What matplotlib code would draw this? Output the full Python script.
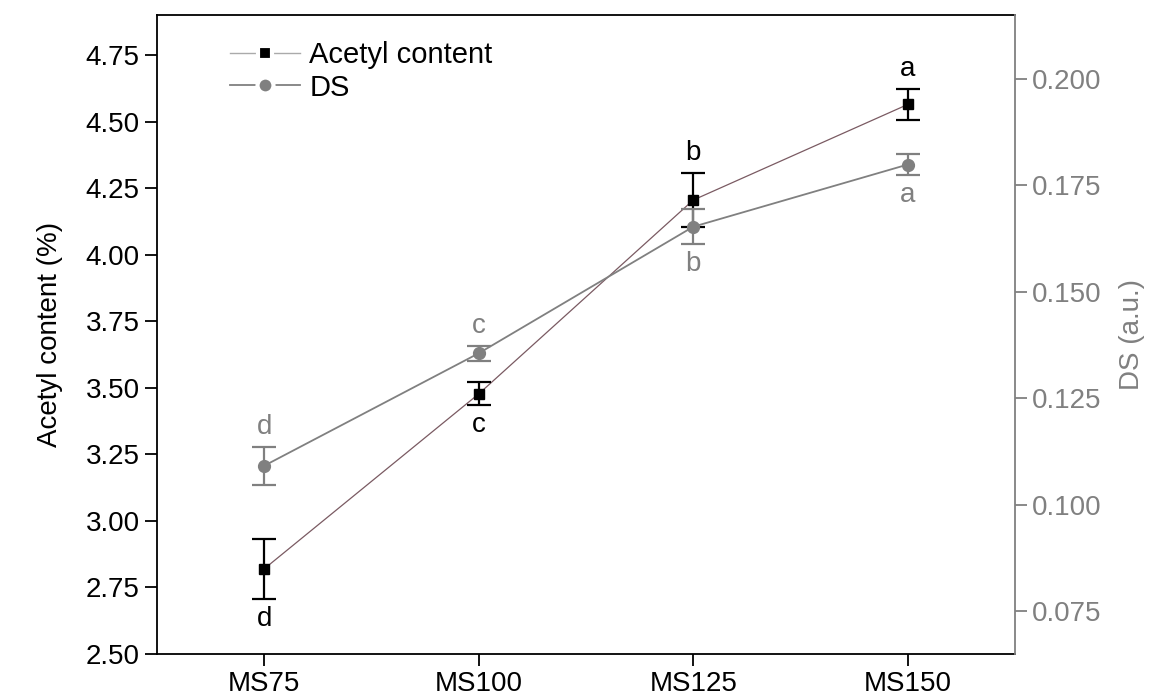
import matplotlib
matplotlib.use('Agg')
import matplotlib.pyplot as plt
from matplotlib.lines import Line2D
import numpy as np

# Data
samples = ['MS75', 'MS100', 'MS125', 'MS150']
acetyl = [2.82, 3.477, 4.205, 4.564]
acetyl_err = [0.113, 0.043, 0.10, 0.059]
acetyl_letters = ['d', 'c', 'b', 'a']
ds = [0.1092, 0.1356, 0.1653, 0.1799]
ds_err = [0.0045, 0.0018, 0.0041, 0.0025]
ds_letters = ['d', 'c', 'b', 'a']
# letter above (+1) or below (-1) the error bar
acetyl_side = [-1, -1, 1, 1]
ds_side = [1, 1, -1, -1]

plt.rcParams['font.family'] = ['Liberation Sans', 'DejaVu Sans']
plt.rcParams['font.size'] = 20

grey = '#808080'
x = np.arange(len(samples))

fig = plt.figure(figsize=(11.62, 6.98), dpi=100)
ax = fig.add_axes([0.1351, 0.063, 0.7384, 0.9155])
ax2 = ax.twinx()

# Acetyl content (left axis)
ax.plot(x, acetyl, color='#7a5a62', linewidth=0.9, zorder=2)
ax.errorbar(x, acetyl, yerr=acetyl_err, fmt='s', color='black', markersize=7.5,
            capsize=8.5, elinewidth=1.6, capthick=1.6, zorder=3)

# DS (right axis)
ax2.plot(x, ds, color=grey, linewidth=1.3, zorder=2)
ax2.errorbar(x, ds, yerr=ds_err, fmt='o', color=grey, markersize=8.5,
             capsize=8.5, elinewidth=1.6, capthick=1.6, zorder=3)

# significance letters
for i in range(len(x)):
    y = acetyl[i] + acetyl_side[i] * acetyl_err[i]
    ax.annotate(acetyl_letters[i], (x[i], y), xytext=(0, 20 * acetyl_side[i]),
                textcoords='offset pixels', ha='center', va='center',
                color='black', fontsize=20)
    y2 = ds[i] + ds_side[i] * ds_err[i]
    ax2.annotate(ds_letters[i], (x[i], y2), xytext=(0, 20 * ds_side[i]),
                 textcoords='offset pixels', ha='center', va='center',
                 color=grey, fontsize=20)

ax.set_xlim(-0.5, 3.5)
ax.set_ylim(2.5, 4.9)
ax2.set_ylim(0.065, 0.215)
ax.set_xticks(x)
ax.set_xticklabels(samples)
ax.set_yticks(np.arange(2.5, 4.76, 0.25))
ax.set_yticklabels([f'{v:.2f}' for v in np.arange(2.5, 4.76, 0.25)])
ax2.set_yticks(np.arange(0.075, 0.2001, 0.025))
ax2.set_yticklabels([f'{v:.3f}' for v in np.arange(0.075, 0.2001, 0.025)])

ax.tick_params(axis='both', direction='out', length=8.5, width=1.3, colors='black', pad=4)
ax2.tick_params(axis='y', direction='out', length=8.5, width=1.3, colors=grey,
                labelcolor=grey, pad=4)
ax.set_ylabel('Acetyl content (%)', labelpad=16)
ax2.set_ylabel('DS (a.u.)', color=grey, labelpad=12)

for s in ['left', 'bottom', 'top']:
    ax.spines[s].set_linewidth(1.3)
ax2.spines['right'].set_color(grey)
ax2.spines['right'].set_linewidth(1.3)
for s in ['left', 'bottom', 'top']:
    ax2.spines[s].set_visible(False)
ax.spines['right'].set_visible(False)

handles = [
    Line2D([], [], color='#aaaaaa', linewidth=1.0, marker='s', markersize=10.5,
           markerfacecolor='black', markeredgecolor='white', markeredgewidth=3),
    Line2D([], [], color=grey, linewidth=1.3, marker='o', markersize=11.5,
           markerfacecolor=grey, markeredgecolor='white', markeredgewidth=3),
]
ax.legend(handles, ['Acetyl content', 'DS'], loc='upper left', frameon=False,
          fontsize=21, handlelength=2.4, handletextpad=0.3, labelspacing=0.15,
          bbox_to_anchor=(0.055, 1.0))

fig.savefig('out.png', dpi=100)
